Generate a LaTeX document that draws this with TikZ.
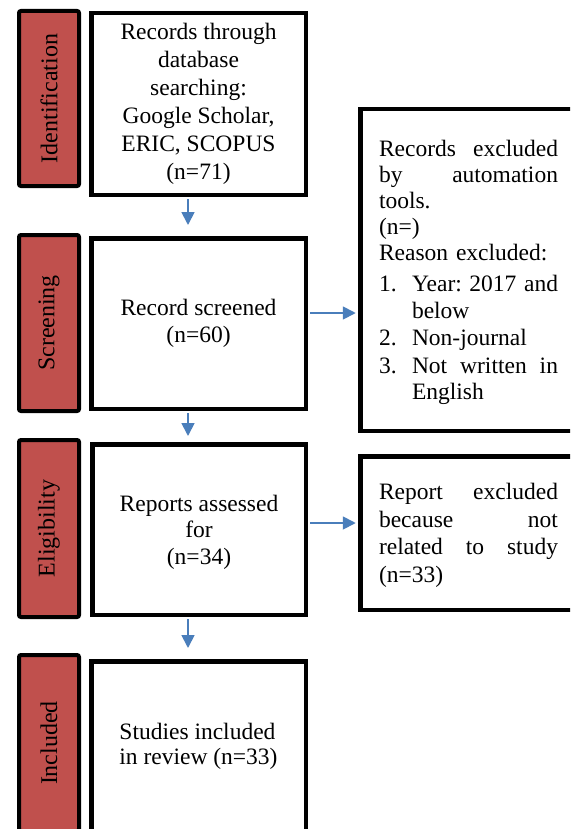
\documentclass[tikz,border=0pt]{standalone}
\usepackage{fontspec}
\setmainfont{Liberation Serif}
\usetikzlibrary{arrows.meta}
\definecolor{barred}{HTML}{C0504D}
\definecolor{arrblue}{HTML}{4A7EBB}
\newcommand{\jline}[2]{\leavevmode\hbox to #1{#2}}
\begin{document}
\begin{tikzpicture}[x=1pt,y=-1pt,
  box/.style={draw=black, line width=4.5pt, fill=white, inner sep=0pt,
    font=\fontsize{23.5}{27.5}\selectfont, align=center},
  sidebox/.style={box, text width=179pt, align=left, minimum width=216pt},
  bar/.style={draw=black, line width=4pt, fill=barred, rounded corners=2pt,
    rotate=90, inner sep=0pt, minimum height=60pt,
    font=\fontsize{24}{28}\selectfont},
  arr/.style={draw=arrblue, line width=1.8pt, shorten <=2.3pt,
    -{Triangle[length=13pt,width=13pt]}}]
\useasboundingbox (0,0) rectangle (570,829);
\clip (0,0) rectangle (570,829);
\fill[white] (0,0) rectangle (570,829);

% stage bars
\node[bar, minimum width=175pt] (bar1) at (49,98.5) {Identification};
\node[bar, minimum width=176pt] (bar2) at (49,323) {Screening};
\node[bar, minimum width=177pt] (bar3) at (49,528.5) {Eligibility};
\node[bar, minimum width=176pt] (bar4) at (49,743) {Included};

% main boxes
\node[box, minimum width=214.5pt, minimum height=181.5pt,
      font=\fontsize{23.5}{28}\selectfont] (b1) at (198.5,104)
  {Records through\\database\\searching:\\Google Scholar,\\ERIC, SCOPUS\\(n=71)};
\node[box, minimum width=214.5pt, minimum height=170.5pt] (b2) at (198.5,323.5)
  {Record screened\\(n=60)};
\node[box, minimum width=213.5pt, minimum height=170.5pt,
      font=\fontsize{23.5}{26.5}\selectfont] (b3) at (199,529.5)
  {\rule{0pt}{21pt}Reports assessed\\for\\(n=34)};
\node[box, minimum width=214.5pt, minimum height=170.5pt,
      font=\fontsize{23.5}{25.5}\selectfont, align=left] (b4) at (198.5,746.5)
  {Studies included\\in review (n=33)};

% side boxes
\node[sidebox, minimum height=321.5pt, font=\fontsize{23.5}{26}\selectfont]
  (rb1) at (468.5,270)
  {\jline{179pt}{\rule{0pt}{20.5pt}Records\hfill excluded}\\
   \jline{179pt}{by\hfill automation}\\
   tools.\\
   (n=)\\
   Reason excluded:\\[5pt]
   \makebox[33pt][l]{1.}\jline{146pt}{Year:\hfill 2017\hfill and}\\[1pt]
   \hspace*{33pt}below\\[1pt]
   \makebox[33pt][l]{2.}Non-journal\\[2pt]
   \makebox[33pt][l]{3.}\jline{146pt}{Not\hfill written\hfill in}\\
   \hspace*{33pt}English};
\node[sidebox, minimum height=153.5pt, font=\fontsize{23.5}{27.7}\selectfont]
  (rb2) at (468.5,533)
  {\jline{179pt}{\rule{0pt}{21pt}Report\hfill excluded}\\
   \jline{179pt}{because\hfill not}\\
   \jline{179pt}{related\hfill to\hfill study}\\
   (n=33)};

% connectors
\draw[arr, shorten >=11pt] (b1.south -| 188,0) -- (b2.north -| 188,0);
\draw[arr, shorten >=6pt]  (b2.south -| 188,0) -- (b3.north -| 188,0);
\draw[arr, shorten >=11pt] (b3.south -| 188,0) -- (b4.north -| 188,0);
\draw[arr, shorten >=2.5pt] (b2.east |- 0,313) -- (rb1.west |- 0,313);
\draw[arr, shorten >=2.5pt] (b3.east |- 0,523) -- (rb2.west |- 0,523);
\end{tikzpicture}
\end{document}
